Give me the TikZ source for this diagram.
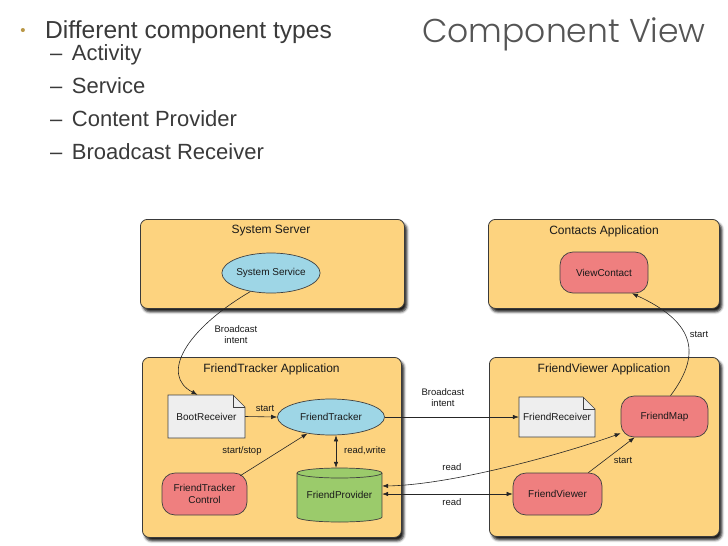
\documentclass[tikz,border=0pt]{standalone}
\usepackage{fontspec}
\setmainfont{Liberation Sans}
\newfontfamily\titlefont{Poppins Light}
\usetikzlibrary{arrows.meta,shapes.geometric,shadows.blur}
\definecolor{boxfill}{HTML}{FDD37F}
\definecolor{boxline}{HTML}{3A3A3A}
\definecolor{svcblue}{HTML}{9ED6E6}
\definecolor{actred}{HTML}{EF7F7F}
\definecolor{provgreen}{HTML}{9BCB6B}
\definecolor{docgray}{HTML}{EEEEEE}
\definecolor{txtgray}{HTML}{3A3A3A}
\definecolor{bulletgold}{HTML}{B99746}
\definecolor{titlegray}{HTML}{555555}
\begin{document}
\begin{tikzpicture}[x=1pt,y=-1pt,
  appbox/.style={draw=boxline, fill=boxfill, rounded corners=7pt, line width=0.8pt,
    blur shadow={shadow xshift=2.5pt, shadow yshift=-3.5pt, shadow blur radius=2.5pt, shadow opacity=90}},
  boxtitle/.style={font=\fontsize{12}{14}\selectfont, text=black!90, inner sep=0pt},
  inner/.style={font=\fontsize{10}{12}\selectfont, text=black!90, inner sep=0pt, align=center},
  svc/.style={inner, ellipse, draw=black!75, fill=svcblue, line width=0.7pt},
  act/.style={inner, rectangle, rounded corners=13pt, draw=black!75, fill=actred, line width=0.7pt},
  shapeline/.style={draw=black!75, line width=0.7pt},
  lbl/.style={font=\fontsize{9.5}{11}\selectfont, text=black!90, inner sep=0pt, align=center},
  conn/.style={draw=black!85, line width=0.6pt, -{Latex[length=6pt,width=4.5pt]}},
  conntwo/.style={draw=black!85, line width=0.6pt, {Latex[length=6pt,width=4.5pt]}-{Latex[length=6pt,width=4.5pt]}},
  toptext/.style={text=txtgray, inner sep=0pt, anchor=base west},
]
\useasboundingbox (0,0) rectangle (728,546);

% ---- slide text ----
\node[text=bulletgold, inner sep=0pt, anchor=base, font=\fontsize{15}{18}\selectfont] (bul) at (23,35.5) {•};
\node[toptext, font=\fontsize{24.6}{28}\selectfont] (t0) at (45,38.5) {Different component types};
\node[toptext, font=\fontsize{22}{26}\selectfont] (t1) at (50,60.5) {–\hspace{9.5pt}Activity};
\node[toptext, font=\fontsize{22}{26}\selectfont] (t2) at (50,93.5) {–\hspace{9.5pt}Service};
\node[toptext, font=\fontsize{22}{26}\selectfont] (t3) at (50,126.5) {–\hspace{9.5pt}Content Provider};
\node[toptext, font=\fontsize{22}{26}\selectfont] (t4) at (50,159.5) {–\hspace{9.5pt}Broadcast Receiver};
\node[text=titlegray, inner sep=0pt, anchor=base west, font=\titlefont\fontsize{33}{38}\selectfont] (title) at (422,42.5) {Component View};

% ---- application boxes ----
\node[appbox, anchor=north west, minimum width=264pt, minimum height=89pt] (ssbox) at (140,219) {};
\node[appbox, anchor=north west, minimum width=231pt, minimum height=89pt] (cabox) at (488,219) {};
\node[appbox, anchor=north west, minimum width=259pt, minimum height=180pt] (ftbox) at (142,357) {};
\node[appbox, anchor=north west, minimum width=230pt, minimum height=179pt] (fvbox) at (489,357) {};

\node[boxtitle] (sst) at (271,231) {System Server};
\node[boxtitle] (cat) at (604,231) {Contacts Application};
\node[boxtitle] (ftt) at (271.5,369) {FriendTracker Application};
\node[boxtitle] (fvt) at (604,369) {FriendViewer Application};

% ---- components ----
\node[svc, minimum width=97pt, minimum height=40pt] (sysS) at (271,273) {System Service};
\node[act, minimum width=88pt, minimum height=41pt] (VC) at (604,272.5) {ViewContact};

% BootReceiver document
\filldraw[shapeline, fill=docgray] (168,395) -- (233,395) -- (245,407) -- (245,438) -- (168,438) -- cycle;
\draw[shapeline] (233,395) -- (233,407) -- (245,407);
\node[inner, minimum width=77pt, minimum height=43pt] (boot) at (206.5,416.5) {BootReceiver};

\node[svc, minimum width=107pt, minimum height=36pt] (FT) at (331,417) {FriendTracker};
\node[act, minimum width=85pt, minimum height=42pt] (FTC) at (204.5,494) {FriendTracker\\Control};

% FriendProvider cylinder
\fill[provgreen] (297,473) rectangle (382,517);
\fill[provgreen] (339.5,517) ellipse [x radius=42.5, y radius=5];
\fill[provgreen] (339.5,473) ellipse [x radius=42.5, y radius=5];
\draw[shapeline] (297,473) -- (297,517) arc [start angle=180, end angle=0, x radius=42.5, y radius=5] -- (382,473);
\draw[shapeline] (339.5,473) ellipse [x radius=42.5, y radius=5];
\node[inner, minimum width=85pt, minimum height=54pt] (FP) at (339.5,495) {FriendProvider};

% FriendReceiver document
\filldraw[shapeline, fill=docgray] (519,397) -- (583,397) -- (595,409) -- (595,437) -- (519,437) -- cycle;
\draw[shapeline] (583,397) -- (583,409) -- (595,409);
\node[inner, minimum width=76pt, minimum height=40pt] (FR) at (557,417) {FriendReceiver};

\node[act, minimum width=87pt, minimum height=41pt] (FM) at (664.5,416.5) {FriendMap};
\node[act, minimum width=89pt, minimum height=42pt] (FV) at (557.5,494) {FriendViewer};

% ---- connectors ----
\draw[conn] (sysS.222) .. controls (185,330) and (160,375) .. ([xshift=-9pt]boot.north);
\node[lbl] (l1) at (236,335) {Broadcast\\intent};

\draw[conn] ([xshift=6pt]FM.north) .. controls (705,350) and (690,320) .. ([xshift=28pt]VC.south);
\node[lbl] (l2) at (699,334) {start};

\draw[conn] (boot.east) -- (FT.west);
\node[lbl] (l3) at (265,408) {start};

\draw[conn] ([xshift=-7pt,yshift=-3pt]FTC.north east) -- (FT.215);
\node[lbl] (l4) at (242,451) {start/stop};

\draw[conntwo] ([xshift=5pt]FT.south) -- ([xshift=5pt]FT.south |- FP.north);
\node[lbl] (l5) at (365,451) {read,write};

\draw[conn] (FT.east) -- (FR.west);
\node[lbl] (l6) at (443,398) {Broadcast\\intent};

\draw[conntwo] ([yshift=9pt]FP.east) .. controls (450,485) and (560,455) .. (FM.201);
\node[lbl] (l7) at (452,467) {read};

\draw[conntwo] (FP.east |- FV.west) -- (FV.west);
\node[lbl] (l8) at (452,502) {read};

\draw[conn] ([xshift=-14pt]FV.north east) -- ([xshift=14pt]FM.south west);
\node[lbl] (l9) at (623,460) {start};
\end{tikzpicture}
\end{document}
